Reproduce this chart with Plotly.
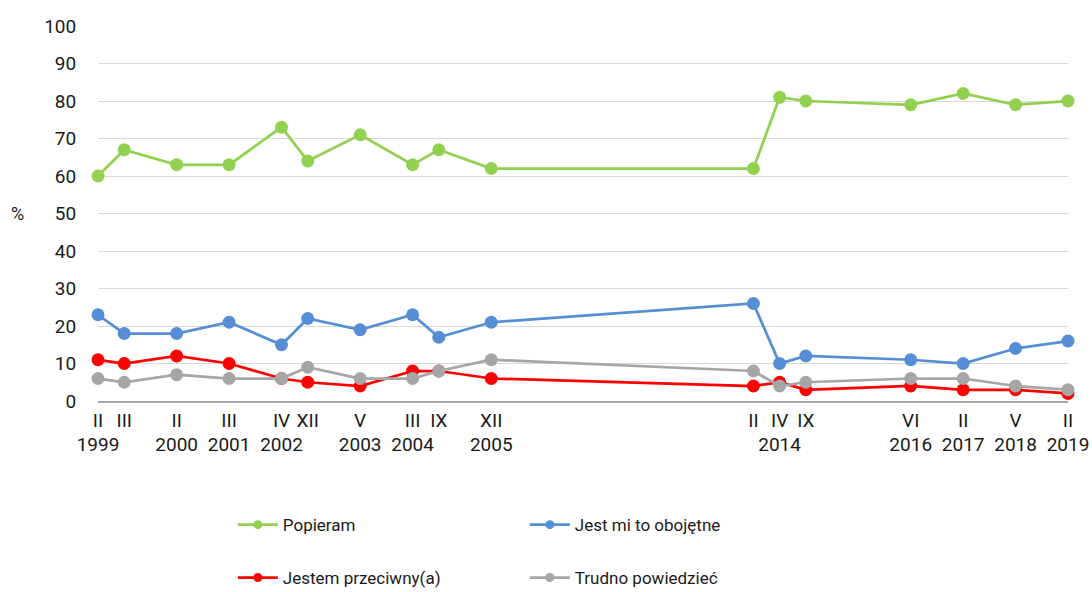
import plotly.graph_objects as go

# --- data ---
months = ["II", "III", "II", "III", "IV", "XII", "V", "III", "IX", "XII",
          "II", "IV", "IX", "VI", "II", "V", "II"]
years = ["1999", "", "2000", "2001", "2002", "", "2003", "2004", "", "2005",
         "", "2014", "", "2016", "2017", "2018", "2019"]
# time slots (category positions along the axis, including empty gaps)
slots = [0, 1, 3, 5, 7, 8, 10, 12, 13, 15, 25, 26, 27, 31, 33, 35, 37]

popieram = [60, 67, 63, 63, 73, 64, 71, 63, 67, 62, 62, 81, 80, 79, 82, 79, 80]
obojetne = [23, 18, 18, 21, 15, 22, 19, 23, 17, 21, 26, 10, 12, 11, 10, 14, 16]
przeciwny = [11, 10, 12, 10, 6, 5, 4, 8, 8, 6, 4, 5, 3, 4, 3, 3, 2]
trudno = [6, 5, 7, 6, 6, 9, 6, 6, 8, 11, 8, 4, 5, 6, 6, 4, 3]

series = [
    ("Popieram", popieram, "#92D050", "legend"),
    ("Jest mi to obojętne", obojetne, "#558ED5", "legend"),
    ("Jestem przeciwny(a)", przeciwny, "#FF0000", "legend2"),
    ("Trudno powiedzieć", trudno, "#A6A6A6", "legend2"),
]

ticktext = [m + ("<br>" + y if y else "") for m, y in zip(months, years)]

FONT = "Roboto"
fig = go.Figure()
for name, vals, col, lg in series:
    fig.add_trace(go.Scatter(
        x=slots, y=vals, name=name, mode="lines+markers",
        line=dict(color=col, width=2.75),
        marker=dict(color=col, size=13),
        cliponaxis=False, showlegend=False,
    ))
# legend entries (smaller marker like the reference legend)
for name, vals, col, lg in series:
    fig.add_trace(go.Scatter(
        x=[None], y=[None], name=name, mode="lines+markers",
        line=dict(color=col, width=2.75),
        marker=dict(color=col, size=9),
        legend=lg, showlegend=True,
    ))

fig.update_layout(
    width=1092, height=592,
    margin=dict(l=98, r=24, t=26, b=191, autoexpand=False),
    paper_bgcolor="white", plot_bgcolor="white",
    font=dict(family=FONT, size=18, color="#1a1a1a"),
    xaxis=dict(
        range=[slots[0], slots[-1]],
        tickvals=slots, ticktext=ticktext,
        showgrid=False, zeroline=False,
        showline=True, linecolor="#A6A6A6", linewidth=1.5,
        ticks="outside", ticklen=1, tickcolor="rgba(0,0,0,0)",
        tickfont=dict(size=19),
        tickangle=0, automargin=False,
    ),
    yaxis=dict(
        range=[0, 100], dtick=10,
        showgrid=True, gridcolor="#D9D9D9", gridwidth=1.3,
        zeroline=False, showline=False,
        ticks="outside", ticklen=17, tickcolor="rgba(0,0,0,0)",
        tickfont=dict(size=19), automargin=False,
    ),
    legend=dict(
        orientation="h", x=0.139, y=-0.331, xanchor="left", yanchor="middle",
        entrywidth=237, entrywidthmode="pixels",
        font=dict(size=17), itemwidth=40,
    ),
    legend2=dict(
        orientation="h", x=0.139, y=-0.472, xanchor="left", yanchor="middle",
        entrywidth=237, entrywidthmode="pixels",
        font=dict(size=17), itemwidth=40,
    ),
    annotations=[dict(
        text="%", xref="paper", yref="paper", x=-0.0835, y=0.5,
        xanchor="center", yanchor="middle", showarrow=False,
        font=dict(size=18),
    )],
)

fig.write_html("out.html", post_script="document.body.style.margin='0';",
               config={"displayModeBar": False})
